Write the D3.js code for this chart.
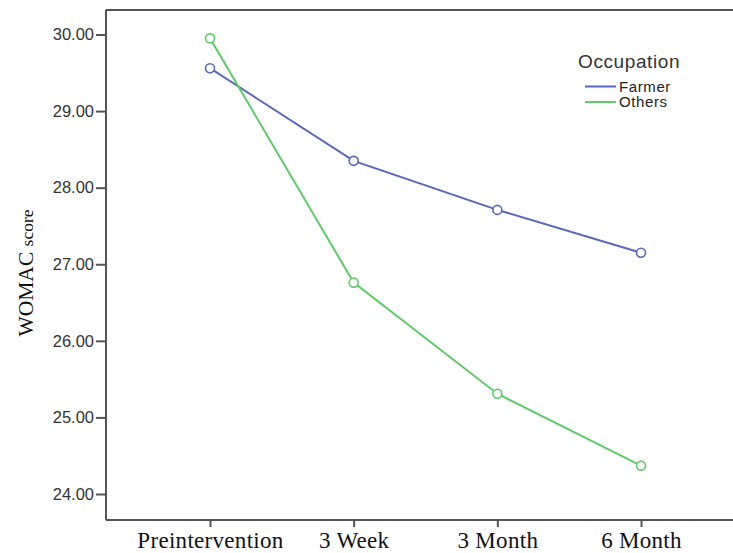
<!DOCTYPE html>
<html>
<head>
<meta charset="utf-8">
<script src="https://cdn.jsdelivr.net/npm/d3@7"></script>
<style>
  body { margin: 0; background: #fff; }
</style>
</head>
<body>
<div id="chart"></div>
<script>
const width = 733, height = 553;
const margin = { left: 106, right: 0, top: 10, bottom: 33 };

// data
const timepoints = ["Preintervention", "3 Week", "3 Month", "6 Month"];
const farmer = [29.56, 28.35, 27.71, 27.15];
const others = [29.95, 26.76, 25.31, 24.37];
const yTicks = [24, 25, 26, 27, 28, 29, 30];
const seriesNames = ["Farmer", "Others"];
const colors = { Farmer: "#5867bd", Others: "#5ecb66" };

const svg = d3.select("#chart").append("svg")
    .attr("width", width)
    .attr("height", height);

const x = d3.scalePoint()
    .domain(timepoints)
    .range([210, 641]);

const y = d3.scaleLinear()
    .domain([24, 30])
    .range([494, 34.5]);

const axisColor = "#555";

// frame: top line and left/bottom axes
svg.append("line")
    .attr("x1", margin.left).attr("x2", width)
    .attr("y1", margin.top).attr("y2", margin.top)
    .attr("stroke", axisColor).attr("stroke-width", 2);

const yAxis = svg.append("g")
    .attr("transform", `translate(${margin.left},0)`)
    .call(d3.axisLeft(y).tickValues(yTicks).tickFormat(d3.format(".2f")).tickSize(10).tickPadding(2));
yAxis.select(".domain").attr("d", `M0,${margin.top}V${height - margin.bottom}`);

const xAxis = svg.append("g")
    .attr("transform", `translate(0,${height - margin.bottom})`)
    .call(d3.axisBottom(x).tickSize(7).tickPadding(5));
xAxis.select(".domain").attr("d", `M${margin.left},0H${width}`);

svg.selectAll(".domain, .tick line")
    .attr("stroke", axisColor)
    .attr("stroke-width", 2);

yAxis.selectAll("text")
    .attr("font-family", "Liberation Sans, Arial, sans-serif")
    .attr("font-size", 16.5)
    .attr("fill", "#333");

xAxis.selectAll("text")
    .attr("font-family", "Liberation Serif, Times New Roman, serif")
    .attr("font-size", 23)
    .attr("letter-spacing", 0.3)
    .attr("fill", "#111");

// y axis title
svg.append("text")
    .attr("transform", `translate(33,273) rotate(-90)`)
    .attr("text-anchor", "middle")
    .attr("font-family", "Liberation Serif, Times New Roman, serif")
    .attr("fill", "#111")
    .call(t => {
        t.append("tspan").attr("font-size", 21.5).text("WOMAC ");
        t.append("tspan").attr("font-size", 17.5).text("score");
    });

// lines and markers
const series = [
    { name: "Farmer", values: farmer },
    { name: "Others", values: others }
];

const line = d3.line()
    .x((d, i) => x(timepoints[i]))
    .y(d => y(d));

series.forEach(s => {
    svg.append("path")
        .datum(s.values)
        .attr("d", line)
        .attr("fill", "none")
        .attr("stroke", colors[s.name])
        .attr("stroke-width", 2);

    svg.selectAll(null)
        .data(s.values)
        .join("circle")
        .attr("cx", (d, i) => x(timepoints[i]))
        .attr("cy", d => y(d))
        .attr("r", 4.5)
        .attr("fill", "white")
        .attr("stroke", colors[s.name])
        .attr("stroke-width", 1.6);
});

// legend
const legend = svg.append("g");
legend.append("text")
    .attr("x", 578).attr("y", 68)
    .attr("font-family", "Liberation Sans, Arial, sans-serif")
    .attr("font-size", 19)
    .attr("letter-spacing", 0.6)
    .attr("fill", "#333")
    .text("Occupation");

seriesNames.forEach((name, i) => {
    const ly = 86.5 + i * 15.5;
    legend.append("line")
        .attr("x1", 585).attr("x2", 616)
        .attr("y1", ly).attr("y2", ly)
        .attr("stroke", colors[name])
        .attr("stroke-width", 2);
    legend.append("text")
        .attr("x", 619).attr("y", ly + 5)
        .attr("font-family", "Liberation Sans, Arial, sans-serif")
        .attr("font-size", 15)
        .attr("letter-spacing", 0.6)
        .attr("fill", "#222")
        .text(name);
});
</script>
</body>
</html>
